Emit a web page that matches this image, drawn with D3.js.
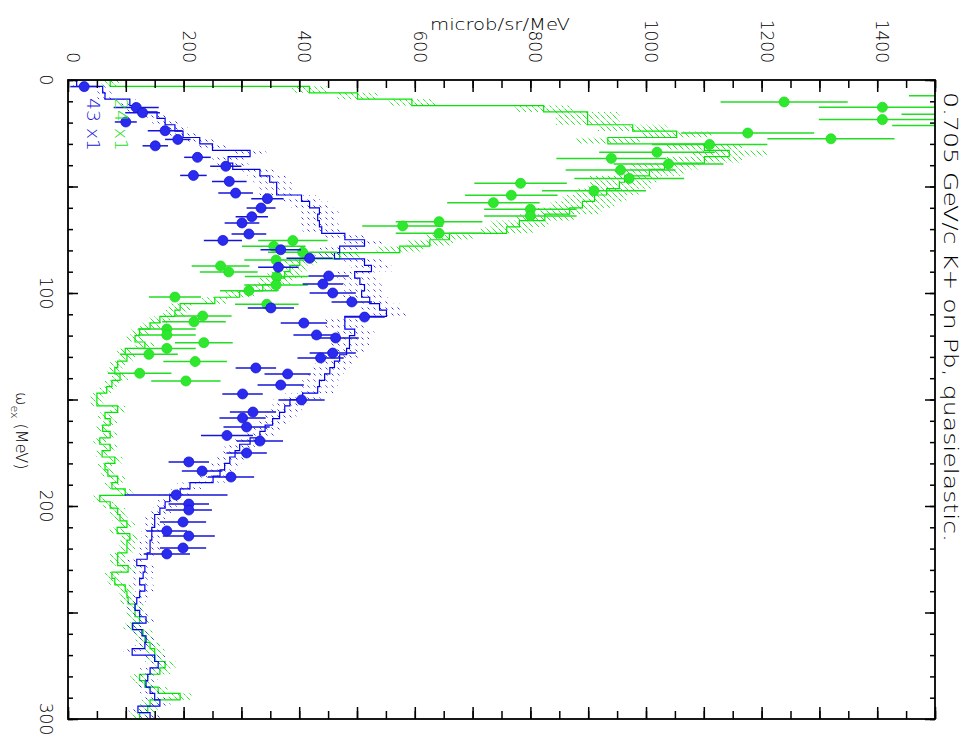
<!DOCTYPE html>
<html><head><meta charset="utf-8">
<script src="https://cdn.jsdelivr.net/npm/d3@7"></script>
<style>body{margin:0;background:#fff;overflow:hidden}</style>
</head><body>
<svg id="c" width="971" height="738"></svg>
<script>
// ---------- DATA ----------
const binWidth = 3; // MeV, histogram bins start at 0
const greenHist = [73,418,501,595,823,899,899,977,1053,934,
1101,1144,1101,1032,1006,963,954,932,911,890,
868,825,781,759,660,626,574,470,401,384,
375,358,337,297,254,194,185,159,142,124,
116,133,99,102,86,81,90,76,67,50,
50,86,64,73,60,73,55,73,59,81,
64,69,86,76,99,55,73,86,90,102,
85,107,102,102,86,86,104,76,81,99,
102,104,116,116,124,111,130,133,142,150,
150,168,159,124,133,156,194,142,138,124];
const greenHistErr = [15,30,35,40,50,55,55,60,60,55,
65,65,65,60,60,60,55,55,55,55,
55,50,50,45,40,40,40,35,30,30,
30,30,28,25,22,20,20,18,17,16,
15,16,14,14,13,13,14,12,12,11,
11,13,12,12,11,12,11,12,11,13,
12,12,13,12,14,11,12,13,13,14,
13,14,14,14,13,13,14,12,13,14,
14,14,15,15,16,15,16,16,17,17,
17,18,18,16,16,17,20,17,17,16];
const blueHist = [15,60,64,107,116,154,168,185,199,228,
250,315,277,285,332,349,361,361,404,418,
435,432,435,439,479,513,470,461,513,525,
496,505,513,508,522,539,551,479,479,496,
487,487,482,470,461,453,444,435,432,406,
384,375,366,354,341,332,315,297,289,280,
271,263,251,211,194,176,168,159,150,150,
145,145,142,142,137,119,133,130,124,133,
124,119,116,124,135,112,128,135,133,111,
150,156,142,138,135,142,150,159,121,142];
const blueHistErr = [8,14,14,18,18,20,22,22,24,25,
26,28,27,27,30,30,30,30,32,32,
33,33,33,33,34,35,34,34,35,35,
34,35,35,35,35,36,36,34,34,34,
34,34,34,33,33,33,32,32,32,31,
30,30,29,29,28,28,27,26,26,25,
25,24,24,22,21,20,20,19,18,18,
18,18,18,18,17,16,17,17,16,17,
16,16,16,16,17,15,16,17,17,15,
18,18,17,17,17,17,18,18,16,17];

const greenPtOmega = [7.4,10.3,12.8,16.1,18.6,21.4,24.9,27.6,30.3,33.9,36.8,39.4,42.3,46.2,48.5,52.0,54.1,57.6,60.7,63.8,66.5,68.5,72.0,75.4,78.1,80.9,84.5,87.3,90.1,92.3,96.2,98.9,101.9,105.3,110.8,113.5,116.9,119.7,123.3,126.0,128.8,132.2,137.7,141.3];
const greenPtValue = [1565,1239,1409,1552,1409,1536,1176,1320,1110,1019,940,1039,956,971,783,910,767,736,800,800,642,579,642,389,356,406,360,264,278,361,360,313,185,344,233,218,171,171,235,171,140,220,124,204];
const greenPtErr = [110,110,110,110,110,110,115,110,100,100,95,95,95,95,80,90,80,80,80,80,75,70,75,60,55,60,55,50,50,55,55,50,45,55,50,55,50,50,50,50,50,55,55,60];

const bluePtOmega = [3.1,12.9,15.4,19.7,23.8,27.9,30.9,36.3,40.5,44.8,47.6,53.1,55.7,60.1,64.2,67.1,72.3,75.3,79.7,83.7,87.9,92.0,95.8,100.0,104.2,107.0,111.3,114.1,119.7,121.1,128.2,130.5,135.2,138.0,143.2,147.4,150.2,155.9,158.7,162.9,166.9,169.5,175.1,179.3,183.6,186.4,194.8,199.1,201.9,207.5,211.7,214.1,219.7,222.5];
const bluePtValue = [28,118,129,100,168,190,151,224,273,217,279,290,345,334,318,301,313,268,368,418,364,451,441,458,491,351,513,408,430,463,458,437,325,380,368,302,404,320,302,309,275,332,309,209,232,282,187,209,209,199,171,209,199,171];
const bluePtErr = [24,39,30,19,30,22,22,23,27,23,30,30,28,25,28,30,30,33,35,40,35,35,35,40,35,40,35,40,40,40,40,40,35,40,40,35,40,40,40,40,45,40,35,35,35,40,89,35,40,40,35,45,40,40];

const valueLabels = [0,200,400,600,800,1000,1200,1400];
const omegaLabels = [0,100,200,300];
const valueMinorTicks = d3.range(0, 1501, 50);
const valueMajorTicks = d3.range(0, 1501, 100);
const omegaMinorTicks = d3.range(0, 301, 10);
const omegaMajorTicks = d3.range(0, 301, 50);

// ---------- DRAW ----------
const svg = d3.select("#c");
const L = 68, R = 935, T = 80, B = 719;
const x = d3.scaleLinear().domain([0, 1500]).range([L, R]);
const y = d3.scaleLinear().domain([0, 300]).range([T, B]);
const FONT = "'DejaVu Sans', 'Liberation Sans', sans-serif";

const defs = svg.append("defs");
defs.append("clipPath").attr("id","clip").append("rect")
  .attr("x", L).attr("y", T).attr("width", R-L).attr("height", B-T);
const pg = defs.append("pattern").attr("id","hatchG").attr("patternUnits","userSpaceOnUse")
  .attr("width",6).attr("height",6);
pg.append("path").attr("d","M0.5,0.5L5.5,5.5").attr("stroke","#2ee82e").attr("stroke-width",1);
const pb = defs.append("pattern").attr("id","hatchB").attr("patternUnits","userSpaceOnUse")
  .attr("width",6).attr("height",6);
pb.append("path").attr("d","M1.5,1.5L3.5,3.5").attr("stroke","#3434f0").attr("stroke-width",1);

const plot = svg.append("g").attr("clip-path","url(#clip)");

function drawHist(vals, errs, pattern, color) {
  const g = plot.append("g");
  g.selectAll("rect").data(vals).join("rect")
    .attr("x", (v,i) => x(v - errs[i]))
    .attr("width", (v,i) => x(v + errs[i]) - x(v - errs[i]))
    .attr("y", (v,i) => y(i*binWidth))
    .attr("height", (v,i) => y((i+1)*binWidth) - y(i*binWidth))
    .attr("fill", `url(#${pattern})`);
  let d = `M${x(0)},${y(0)}`;
  vals.forEach((v,i) => { d += `H${x(v)}V${y((i+1)*binWidth)}`; });
  g.append("path").attr("d", d).attr("fill","none").attr("stroke",color).attr("stroke-width",1.2);
}
drawHist(greenHist, greenHistErr, "hatchG", "#00e600");
drawHist(blueHist, blueHistErr, "hatchB", "#0000ee");

function drawPts(om, val, err, color, fill) {
  const g = plot.append("g");
  const data = om.map((w,i) => ({w, v: val[i], e: err[i]}));
  g.selectAll("line").data(data).join("line")
    .attr("x1", d => x(d.v - d.e)).attr("x2", d => x(d.v + d.e))
    .attr("y1", d => y(d.w)).attr("y2", d => y(d.w))
    .attr("stroke", color).attr("stroke-width", 1.5);
  g.selectAll("circle").data(data).join("circle")
    .attr("cx", d => x(d.v)).attr("cy", d => y(d.w)).attr("r", 5)
    .attr("fill", fill).attr("stroke", color).attr("stroke-width", 0.8);
}
drawPts(greenPtOmega, greenPtValue, greenPtErr, "#22dd22", "#2ee82e");
drawPts(bluePtOmega, bluePtValue, bluePtErr, "#1515d8", "#2b2bf0");

// axes (ticks inward)
function tickAxis(gen, tr, vals, size) {
  const g = svg.append("g").attr("transform", tr)
    .call(gen.tickValues(vals).tickSize(size).tickFormat(""));
  g.select(".domain").remove();
  g.selectAll("line").attr("stroke","#000").attr("stroke-width",1.5);
}
tickAxis(d3.axisBottom(x), `translate(0,${T})`, valueMinorTicks, 8);
tickAxis(d3.axisBottom(x), `translate(0,${T})`, valueMajorTicks, 12);
tickAxis(d3.axisTop(x), `translate(0,${B})`, valueMinorTicks, 8);
tickAxis(d3.axisTop(x), `translate(0,${B})`, valueMajorTicks, 12);
tickAxis(d3.axisRight(y), `translate(${L},0)`, omegaMinorTicks, 5);
tickAxis(d3.axisRight(y), `translate(${L},0)`, omegaMajorTicks, 10);
tickAxis(d3.axisLeft(y), `translate(${R},0)`, omegaMinorTicks, 5);
tickAxis(d3.axisLeft(y), `translate(${R},0)`, omegaMajorTicks, 10);

svg.append("rect").attr("x",L).attr("y",T).attr("width",R-L).attr("height",B-T)
  .attr("fill","none").attr("stroke","#000").attr("stroke-width",1.8);

// tick labels (rotated)
svg.append("g").selectAll("text").data(valueLabels).join("text")
  .attr("transform", d => `translate(${x(d)-1},63) rotate(90)`)
  .attr("text-anchor","end").attr("font-family",FONT).attr("font-size",17)
  .attr("font-weight",300).text(d => d);
svg.append("g").selectAll("text").data(omegaLabels).join("text")
  .attr("transform", d => `translate(40,${y(d)}) rotate(90)`)
  .attr("text-anchor","middle").attr("font-family",FONT).attr("font-size",17)
  .attr("font-weight",300).text(d => d);

// titles
svg.append("text").attr("x",430).attr("y",30).attr("font-family",FONT).attr("font-size",15)
  .attr("font-weight",300).attr("textLength",140).attr("lengthAdjust","spacingAndGlyphs")
  .text("microb/sr/MeV");
svg.append("text").attr("transform","translate(944,92) rotate(90)")
  .attr("font-family",FONT).attr("font-size",19).attr("font-weight",300)
  .attr("textLength",450).attr("lengthAdjust","spacingAndGlyphs")
  .text("0.705 GeV/c K+ on Pb, quasielastic.");
const xl = svg.append("text").attr("transform","translate(16,392) rotate(90)")
  .attr("font-family",FONT).attr("font-size",16).attr("font-weight",300);
xl.append("tspan").text("ω");
xl.append("tspan").attr("dy",5).attr("font-size",11).text("ex");
xl.append("tspan").attr("dy",-5).text(" (MeV)");

// legend
svg.append("text").attr("transform","translate(87,98) rotate(90)")
  .attr("font-family",FONT).attr("font-size",18).attr("font-weight",300).attr("fill","#1515e0")
  .attr("textLength",53).attr("lengthAdjust","spacingAndGlyphs").text("43 x1");
svg.append("text").attr("transform","translate(115,98) rotate(90)")
  .attr("font-family",FONT).attr("font-size",18).attr("font-weight",300).attr("fill","#22dd22")
  .attr("textLength",53).attr("lengthAdjust","spacingAndGlyphs").text("24 x1");
</script>
</body></html>
